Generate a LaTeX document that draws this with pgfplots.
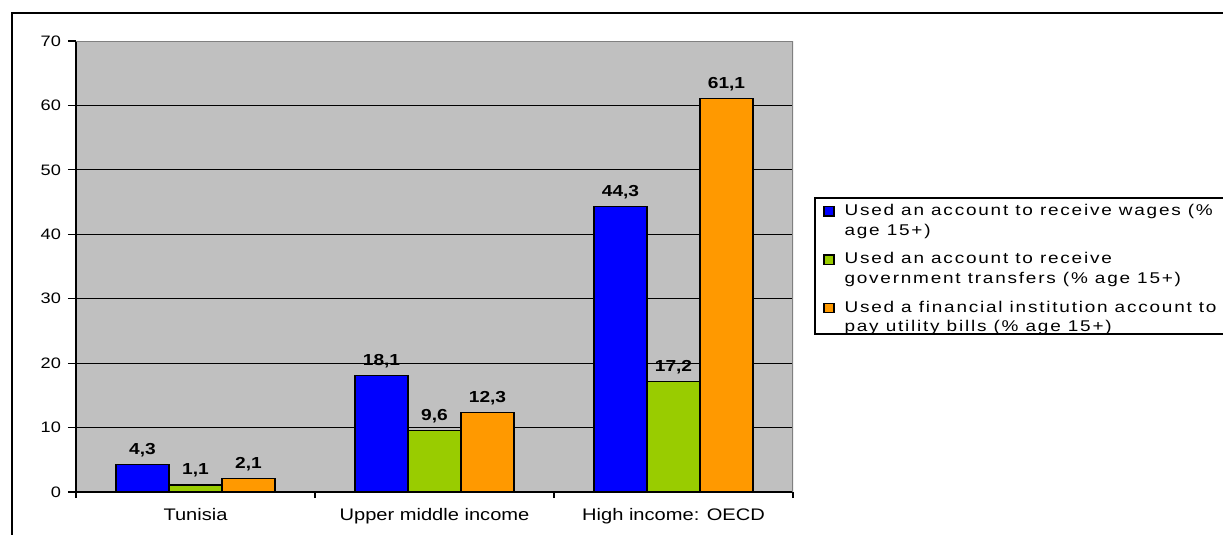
\documentclass[border=0pt]{standalone}
\usepackage{fontspec}
\setmainfont{Liberation Sans}[FakeStretch=1.2]
\newfontfamily\legfont{Liberation Sans}[FakeStretch=1.22,LetterSpace=11.5]
\usepackage{pgfplots}
\pgfplotsset{compat=1.18}
\definecolor{cblue}{HTML}{0000FF}
\definecolor{cgreen}{HTML}{99CC00}
\definecolor{corange}{HTML}{FF9900}
\definecolor{bg}{HTML}{C0C0C0}
\definecolor{bord}{HTML}{808080}
\begin{document}
\begin{tikzpicture}
\useasboundingbox (0,0) rectangle (611.5bp,-267.5bp);
\draw[line width=1bp] (5.75bp,-267.5bp) -- (5.75bp,-6.5bp) -- (611.5bp,-6.5bp);
\draw[line width=0.6bp] (611.5bp,-99bp) -- (407.5bp,-99bp) -- (407.5bp,-167bp) -- (611.5bp,-167bp);
\begin{axis}[
  at={(38bp,-20.5bp)}, anchor=north west,
  scale only axis, width=358.5bp, height=225.5bp,
  ybar, bar width=26.5bp,
  xmin=-0.5, xmax=2.5, ymin=0, ymax=70,
  axis x line*=bottom, axis y line*=left,
  axis line style={black, line width=0.6bp},
  axis background/.style={fill=bg},
  ytick={0,10,...,70},
  ymajorgrids, grid style={black, line width=0.5bp},
  xtick={0,1,2},
  xticklabels={Tunisia, Upper middle income, High income: OECD},
  major x tick style={draw=none},
  minor xtick={-0.5,0.5,1.5,2.5},
  minor x tick style={black, line width=0.6bp},
  y tick style={black, line width=0.6bp},
  tick align=outside,
  minor tick length=3bp,
  major tick length=4bp,
  /pgf/number format/assume math mode=true,
  yticklabel style={font=\fontsize{7.6}{8}\selectfont},
  xticklabel style={font=\fontsize{8.4}{9}\selectfont, anchor=base, yshift=-10bp},
  nodes near coords={\pgfmathprintnumber[use comma,fixed,fixed zerofill,precision=1]{\pgfplotspointmeta}},
  every node near coord/.append style={font=\bfseries\fontsize{8}{9}\selectfont, anchor=base, yshift=5bp, black},
  legend style={at={(1.0418,0.6386)}, anchor=north west, draw=none, fill=none, inner sep=0pt, row sep=7bp, column sep=0pt,
    nodes={inner sep=0pt, font=\legfont\fontsize{7.8}{10}\selectfont, align=left}},
  legend cell align=left,
  legend image code/.code={\draw[#1,draw=black,line width=0.6bp] (0bp,2.7bp) rectangle (5bp,7.3bp); \path (10bp,-7.3bp);},
]
\addplot[bar shift=-26.5bp, fill=cblue, draw=black, line width=0.6bp]
  coordinates {(0,4.3) (1,18.1) (2,44.3)};
\addlegendentry{Used an account to receive wages (\%\\age 15+)}
\addplot[bar shift=0bp, fill=cgreen, draw=black, line width=0.6bp]
  coordinates {(0,1.1) (1,9.6) (2,17.2)};
\addlegendentry{Used an account to receive\\government transfers (\% age 15+)}
\addplot[bar shift=26.5bp, fill=corange, draw=black, line width=0.6bp]
  coordinates {(0,2.1) (1,12.3) (2,61.1)};
\addlegendentry{Used a financial institution account to\\pay utility bills (\% age 15+)}
\draw[bord, line width=0.6bp] (rel axis cs:0,1) -- (rel axis cs:1,1) -- (rel axis cs:1,0);
\end{axis}
\end{tikzpicture}
\end{document}
